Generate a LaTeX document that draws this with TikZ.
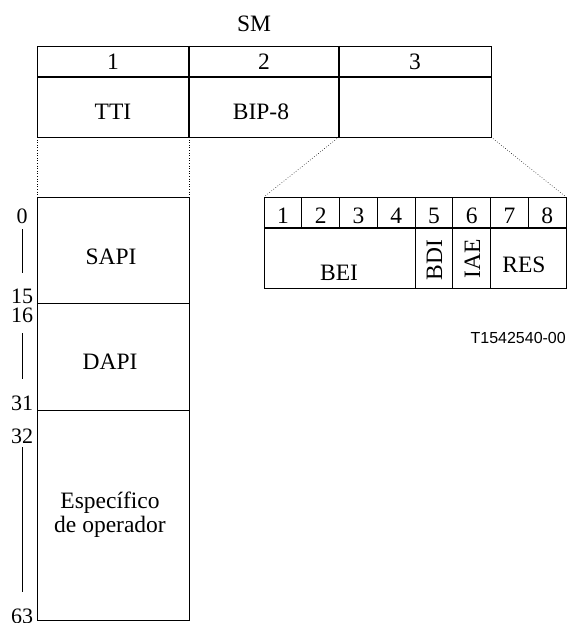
\documentclass[tikz,border=0pt]{standalone}
\usepackage{fontspec}
\setmainfont{Liberation Serif}
\newfontfamily\arialfont{Liberation Sans}
\begin{document}
\begin{tikzpicture}[x=1pt,y=-1pt,
  frame/.style={draw=black,line width=0.9pt},
  divider/.style={draw=black,line width=1.3pt},
  zoomline/.style={draw=black,line width=0.6pt,dotted},
  rule/.style={draw=black,line width=0.6pt},
  lbl/.style={inner sep=0pt,anchor=base,font=\fontsize{23.5}{25}\selectfont},
  num/.style={inner sep=0pt,anchor=base,font=\fontsize{22}{24}\selectfont},
  vlbl/.style={inner sep=0pt,anchor=base,rotate=90,font=\fontsize{23.5}{25}\selectfont}]
\useasboundingbox (0,0) rectangle (568,623);

% title
\node[lbl] (sm) at (254,32) {SM};

% top table
\draw[frame] (37,46) rectangle (491,137);
\draw[divider] (37,77) -- (491,77);
\draw[divider] (189,46) -- (189,137);
\draw[divider] (339,46) -- (339,137);
\node[lbl] (c1) at (113,70) {1};
\node[lbl] (c2) at (264,70) {2};
\node[lbl] (c3) at (415,70) {3};
\node[lbl] (tti) at (113,119) {TTI};
\node[lbl] (bip) at (261,119) {BIP-8};

% zoom lines
\coordinate (z1a) at (37,137);  \coordinate (z1b) at (37,197);
\coordinate (z2a) at (189,137); \coordinate (z2b) at (189,197);
\coordinate (z3a) at (339,137); \coordinate (z3b) at (264,197);
\coordinate (z4a) at (491,137); \coordinate (z4b) at (566,197);
\draw[zoomline] (z1a) -- (z1b);
\draw[zoomline] (z2a) -- (z2b);
\draw[zoomline] (z3a) -- (z3b);
\draw[zoomline] (z4a) -- (z4b);

% left column (TTI)
\draw[frame] (37,197) rectangle (189,620);
\draw[frame] (37,303) -- (189,303);
\draw[frame] (37,410) -- (189,410);
\node[lbl] (sapi) at (111,264) {SAPI};
\node[lbl] (dapi) at (110,369) {DAPI};
\node[lbl] (esp) at (110,508) {Específico};
\node[lbl] (op) at (110,532) {de operador};

% byte numbers
\node[num] (n0) at (22,223) {0};
\coordinate (l0a) at (22,229); \coordinate (l0b) at (22,273);
\draw[rule] (l0a) -- (l0b);
\node[num] (n15) at (22,303) {15};
\node[num] (n16) at (22,322) {16};
\coordinate (l1a) at (22,333); \coordinate (l1b) at (22,379);
\draw[rule] (l1a) -- (l1b);
\node[num] (n31) at (22,410) {31};
\node[num] (n32) at (22,443) {32};
\coordinate (l2a) at (22,447); \coordinate (l2b) at (22,592);
\draw[rule] (l2a) -- (l2b);
\node[num] (n63) at (22,623) {63};

% small table (byte 3)
\draw[frame] (264,197) rectangle (566,288);
\draw[divider] (264,228) -- (566,228);
\foreach \i in {1,...,7} {
  \draw[frame] ({264+\i*37.75},197) -- ({264+\i*37.75},228);
}
\draw[frame] (415,228) -- (415,288);
\draw[frame] (452.5,228) -- (452.5,288);
\draw[frame] (490.5,228) -- (490.5,288);
\foreach \i in {1,...,8} {
  \node[lbl] (b\i) at ({264+(\i-0.5)*37.75},223) {\i};
}
\node[lbl] (bei) at (339,280) {BEI};
\node[vlbl] (bdi) at (442,260) {BDI};
\node[vlbl] (iae) at (480,259) {IAE};
\node[lbl] (res) at (524,272) {RES};

% figure id
\node[inner sep=0pt,anchor=base east,font=\arialfont\fontsize{16}{18}\selectfont] (fid) at (566,343) {T1542540-00};
\end{tikzpicture}
\end{document}
